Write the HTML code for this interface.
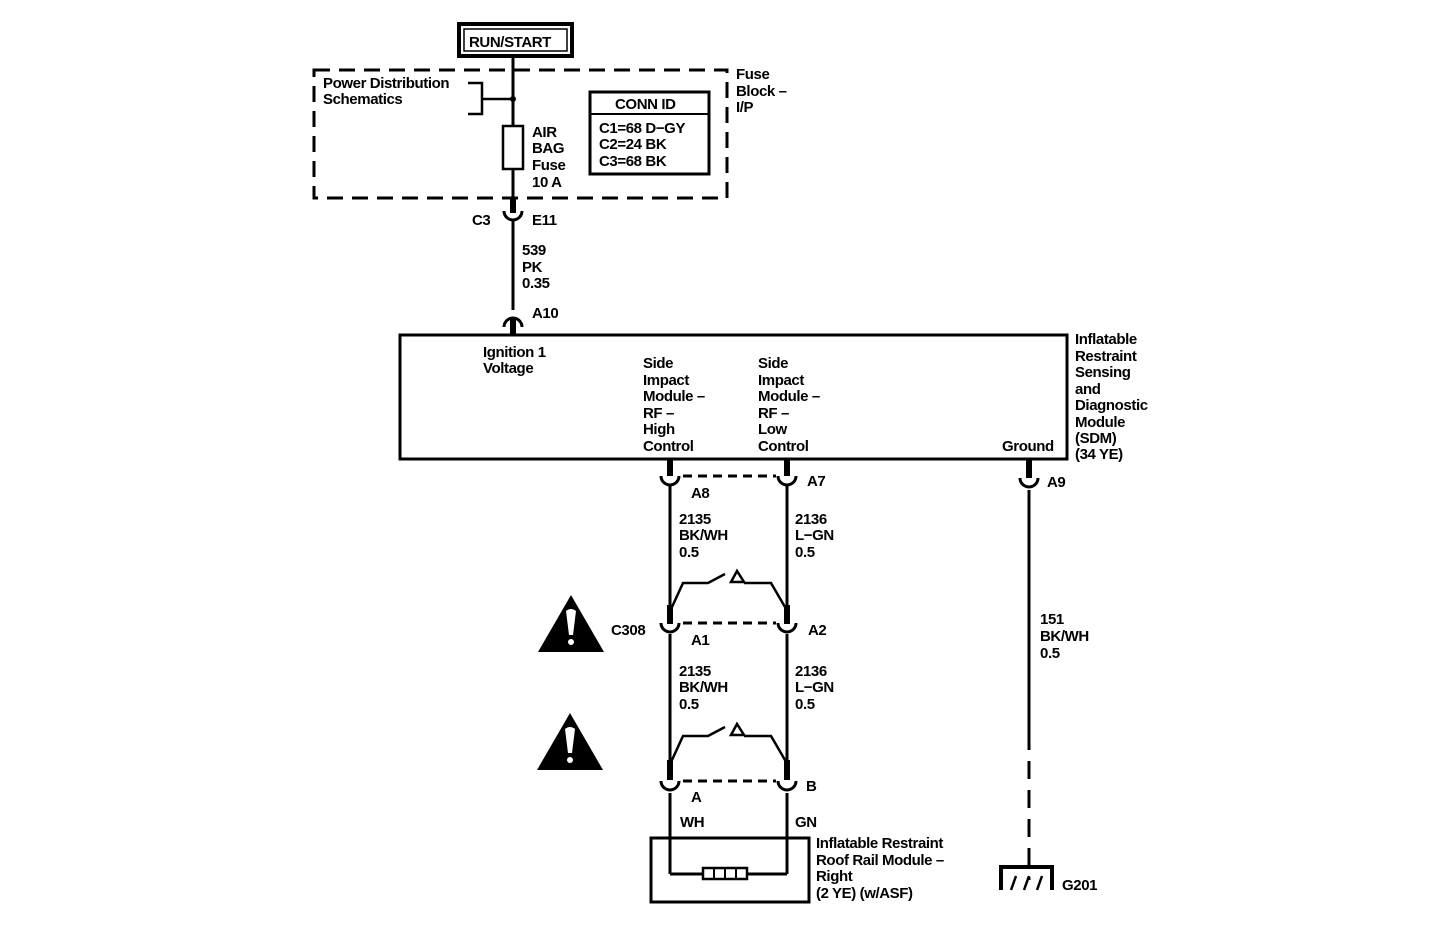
<!DOCTYPE html>
<html><head><meta charset="utf-8"><style>
html,body{margin:0;padding:0;background:#fff}
svg{display:block}
text{font-family:"Liberation Sans",Arial,sans-serif;font-size:15px;font-weight:bold;fill:#000;letter-spacing:-0.4px}
</style></head><body>
<svg width="1440" height="934" viewBox="0 0 1440 934" xmlns="http://www.w3.org/2000/svg">
<g fill="none" stroke="#000">
<rect x="459" y="24" width="113" height="32" stroke-width="4"/>
<rect x="464" y="29" width="103" height="22" stroke-width="1.5"/>
<line x1="513" y1="58" x2="513" y2="198" stroke-width="3"/>
<rect x="314" y="70" width="413" height="128" stroke-width="3" stroke-dasharray="16,9"/>
<polyline points="468,83 482,83 482,114 468,114" stroke-width="2.5"/>
<line x1="482" y1="99" x2="513" y2="99" stroke-width="2.5"/>
<rect x="503" y="126" width="20" height="43" stroke-width="2.5" fill="#fff"/>
<rect x="590" y="92" width="119" height="82" stroke-width="3"/>
<line x1="590" y1="114" x2="709" y2="114" stroke-width="2"/>
<line x1="513" y1="198" x2="513" y2="213" stroke-width="6"/>
<path d="M504 211 A9 9 0 0 0 522 211" stroke-width="3"/>
<line x1="513" y1="220" x2="513" y2="310" stroke-width="3"/>
<path d="M504 327 A9 9 0 0 1 522 327" stroke-width="3"/>
<line x1="513" y1="318" x2="513" y2="335" stroke-width="6"/>
<rect x="400" y="335" width="667" height="124" stroke-width="3"/>
<g stroke-width="3">
<line x1="670" y1="484" x2="670" y2="612"/>
<line x1="787" y1="484" x2="787" y2="612"/>
<line x1="670" y1="634" x2="670" y2="768"/>
<line x1="787" y1="634" x2="787" y2="768"/>
<line x1="670" y1="793" x2="670" y2="874"/>
<line x1="787" y1="793" x2="787" y2="874"/>
<line x1="1029" y1="490" x2="1029" y2="732"/>
<line x1="1029" y1="732" x2="1029" y2="880" stroke-dasharray="18,11"/>
</g>
<g stroke-width="6">
<line x1="670" y1="459" x2="670" y2="476"/>
<line x1="787" y1="459" x2="787" y2="476"/>
<line x1="1029" y1="459" x2="1029" y2="478"/>
<line x1="670" y1="605" x2="670" y2="624"/>
<line x1="787" y1="605" x2="787" y2="624"/>
<line x1="670" y1="760" x2="670" y2="780"/>
<line x1="787" y1="760" x2="787" y2="780"/>
</g>
<g stroke-width="3">
<path d="M661 476 A9 9 0 0 0 679 476"/>
<path d="M778 476 A9 9 0 0 0 796 476"/>
<path d="M1020 478 A9 9 0 0 0 1038 478"/>
<path d="M661 623 A9 9 0 0 0 679 623"/>
<path d="M778 623 A9 9 0 0 0 796 623"/>
<path d="M661 781 A9 9 0 0 0 679 781"/>
<path d="M778 781 A9 9 0 0 0 796 781"/>
</g>
<g stroke-width="3" stroke-dasharray="9,6">
<line x1="683" y1="476" x2="776" y2="476"/>
<line x1="683" y1="623" x2="776" y2="623"/>
<line x1="683" y1="781" x2="776" y2="781"/>
</g>
<g stroke-width="2.5">
<polyline points="672,607 683,583 708,583 725,574"/>
<polygon points="737,571 731,582 744,582"/>
<polyline points="744,583 771,583 785,607"/>
<polyline points="672,760 683,736 708,736 725,727"/>
<polygon points="737,724 731,735 744,735"/>
<polyline points="744,736 771,736 785,760"/>
</g>
<rect x="651" y="838" width="158" height="64" stroke-width="3"/>
<line x1="670" y1="874" x2="703" y2="874" stroke-width="3"/>
<line x1="747" y1="874" x2="787" y2="874" stroke-width="3"/>
<rect x="703" y="868" width="44" height="11" stroke-width="2.5"/>
<line x1="714" y1="868" x2="714" y2="879" stroke-width="2"/>
<line x1="725" y1="868" x2="725" y2="879" stroke-width="2"/>
<line x1="736" y1="868" x2="736" y2="879" stroke-width="2"/>
<polyline points="1001,890 1001,867 1052,867 1052,890" stroke-width="4"/>
<g stroke-width="2.5"><line x1="1016" y1="876" x2="1011" y2="890"/><line x1="1029" y1="876" x2="1024" y2="890"/><line x1="1042" y1="876" x2="1037" y2="890"/></g>
</g>
<circle cx="513" cy="99" r="3" fill="#000"/>
<polygon points="571,595 538,652 604,652" fill="#000"/>
<path d="M566 611 Q571 607 576 611 L573 635 L569 635 Z" fill="#fff"/><circle cx="571" cy="642" r="3" fill="#fff"/>
<polygon points="570,713 537,770 603,770" fill="#000"/>
<path d="M565 729 Q570 725 575 729 L572 753 L568 753 Z" fill="#fff"/><circle cx="570" cy="760" r="3" fill="#fff"/>
<text x="469" y="47">RUN/START</text>
<text x="323" y="88">Power Distribution</text>
<text x="323" y="104">Schematics</text>
<text x="532" y="137">AIR</text><text x="532" y="153">BAG</text><text x="532" y="170">Fuse</text><text x="532" y="187">10 A</text>
<text x="615" y="109">CONN ID</text>
<text x="599" y="133">C1=68 D−GY</text><text x="599" y="149">C2=24 BK</text><text x="599" y="166">C3=68 BK</text>
<text x="736" y="79">Fuse</text><text x="736" y="96">Block –</text><text x="736" y="112">I/P</text>
<text x="472" y="225">C3</text><text x="532" y="225">E11</text>
<text x="522" y="255">539</text><text x="522" y="272">PK</text><text x="522" y="288">0.35</text>
<text x="532" y="318">A10</text>
<text x="483" y="357">Ignition 1</text><text x="483" y="373">Voltage</text>
<text x="643" y="368">Side</text><text x="643" y="385">Impact</text><text x="643" y="401">Module –</text><text x="643" y="418">RF –</text><text x="643" y="434">High</text><text x="643" y="451">Control</text>
<text x="758" y="368">Side</text><text x="758" y="385">Impact</text><text x="758" y="401">Module –</text><text x="758" y="418">RF –</text><text x="758" y="434">Low</text><text x="758" y="451">Control</text>
<text x="1002" y="451">Ground</text>
<text x="1075" y="344">Inflatable</text><text x="1075" y="361">Restraint</text><text x="1075" y="377">Sensing</text><text x="1075" y="394">and</text><text x="1075" y="410">Diagnostic</text><text x="1075" y="427">Module</text><text x="1075" y="443">(SDM)</text><text x="1075" y="459">(34 YE)</text>
<text x="691" y="498">A8</text><text x="807" y="486">A7</text><text x="1047" y="487">A9</text>
<text x="679" y="524">2135</text><text x="679" y="540">BK/WH</text><text x="679" y="557">0.5</text>
<text x="795" y="524">2136</text><text x="795" y="540">L−GN</text><text x="795" y="557">0.5</text>
<text x="611" y="635">C308</text><text x="691" y="645">A1</text><text x="808" y="635">A2</text>
<text x="679" y="676">2135</text><text x="679" y="692">BK/WH</text><text x="679" y="709">0.5</text>
<text x="795" y="676">2136</text><text x="795" y="692">L−GN</text><text x="795" y="709">0.5</text>
<text x="691" y="802">A</text><text x="806" y="791">B</text>
<text x="680" y="827">WH</text><text x="795" y="827">GN</text>
<text x="816" y="848">Inflatable Restraint</text><text x="816" y="865">Roof Rail Module –</text><text x="816" y="881">Right</text><text x="816" y="898">(2 YE) (w/ASF)</text>
<text x="1040" y="624">151</text><text x="1040" y="641">BK/WH</text><text x="1040" y="658">0.5</text>
<text x="1062" y="890">G201</text>
</svg>
</body></html>
